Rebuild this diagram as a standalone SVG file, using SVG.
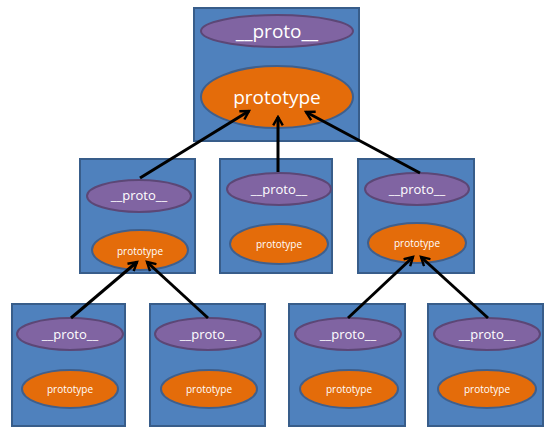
<svg xmlns="http://www.w3.org/2000/svg" width="556" height="435" viewBox="0 0 556 435">
<style>
.box{fill:#4F81BD;stroke:#385D8A;stroke-width:2}
.pr{fill:#8064A2;stroke:#5C4776;stroke-width:2}
.pt{fill:#E46C0A;stroke:#3F5F8C;stroke-width:2}
text{fill:#fff;font-family:"Open Sans","Liberation Sans",sans-serif;text-anchor:middle;dominant-baseline:central}
.t1{font-size:19px}
.t2{font-size:13px}
.t3{font-size:10px}
.c{stroke:#000;stroke-width:3;fill:none}
</style>
<defs>
<marker id="ah" viewBox="0 0 10 10" refX="8" refY="5" markerWidth="4" markerHeight="4" orient="auto" markerUnits="strokeWidth">
<path d="M1,1 L8,5 L1,9" fill="none" stroke="#000" stroke-width="2"/>
</marker>
</defs>
<g id="top">
<rect class="box" x="194" y="8" width="165" height="133"/>
<ellipse class="pr" cx="277" cy="31" rx="76" ry="16"/>
<text class="t1" x="277" y="31">__proto__</text>
<ellipse class="pt" cx="277" cy="97" rx="76" ry="31"/>
<text class="t1" x="277" y="97">prototype</text>
</g>
<g id="mid1">
<rect class="box" x="80" y="159" width="115" height="114"/>
<ellipse class="pr" cx="139" cy="196" rx="52" ry="16"/>
<text class="t2" x="139" y="195">__proto__</text>
<ellipse class="pt" cx="140" cy="250" rx="48" ry="20"/>
<text class="t3" x="140" y="251">prototype</text>
</g>
<g id="mid2">
<rect class="box" x="220" y="159" width="112" height="114"/>
<ellipse class="pr" cx="279" cy="189" rx="52" ry="16"/>
<text class="t2" x="279" y="189">__proto__</text>
<ellipse class="pt" cx="279" cy="244" rx="49" ry="20"/>
<text class="t3" x="279" y="244">prototype</text>
</g>
<g id="mid3">
<rect class="box" x="358" y="159" width="116" height="114"/>
<ellipse class="pr" cx="417" cy="189" rx="52" ry="16"/>
<text class="t2" x="417" y="189">__proto__</text>
<ellipse class="pt" cx="417" cy="243" rx="49" ry="20"/>
<text class="t3" x="417" y="243">prototype</text>
</g>
<g id="bot1">
<rect class="box" x="12" y="304" width="113" height="122"/>
<ellipse class="pr" cx="70" cy="334" rx="53" ry="16"/>
<text class="t2" x="70" y="334">__proto__</text>
<ellipse class="pt" cx="70" cy="389" rx="48" ry="19"/>
<text class="t3" x="70" y="389">prototype</text>
</g>
<g id="bot2">
<rect class="box" x="150" y="304" width="115" height="122"/>
<ellipse class="pr" cx="208" cy="334" rx="53" ry="16"/>
<text class="t2" x="208" y="334">__proto__</text>
<ellipse class="pt" cx="209" cy="389" rx="48" ry="19"/>
<text class="t3" x="209" y="389">prototype</text>
</g>
<g id="bot3">
<rect class="box" x="289" y="304" width="116" height="122"/>
<ellipse class="pr" cx="348" cy="334" rx="53" ry="16"/>
<text class="t2" x="348" y="334">__proto__</text>
<ellipse class="pt" cx="349" cy="389" rx="49" ry="19"/>
<text class="t3" x="349" y="389">prototype</text>
</g>
<g id="bot4">
<rect class="box" x="428" y="304" width="115" height="122"/>
<ellipse class="pr" cx="487" cy="334" rx="53" ry="16"/>
<text class="t2" x="487" y="334">__proto__</text>
<ellipse class="pt" cx="487" cy="389" rx="49" ry="19"/>
<text class="t3" x="487" y="389">prototype</text>
</g>
<g id="connectors">
<line class="c" x1="140" y1="178" x2="249" y2="111" marker-end="url(#ah)"/>
<line class="c" x1="278" y1="172" x2="278" y2="117" marker-end="url(#ah)"/>
<line class="c" x1="420" y1="173" x2="306" y2="112" marker-end="url(#ah)"/>
<line class="c" x1="71" y1="318" x2="137" y2="262" marker-end="url(#ah)"/>
<line class="c" x1="208" y1="318" x2="147" y2="262" marker-end="url(#ah)"/>
<line class="c" x1="348" y1="318" x2="413" y2="257" marker-end="url(#ah)"/>
<line class="c" x1="488" y1="318" x2="421" y2="257" marker-end="url(#ah)"/>
</g>
</svg>
